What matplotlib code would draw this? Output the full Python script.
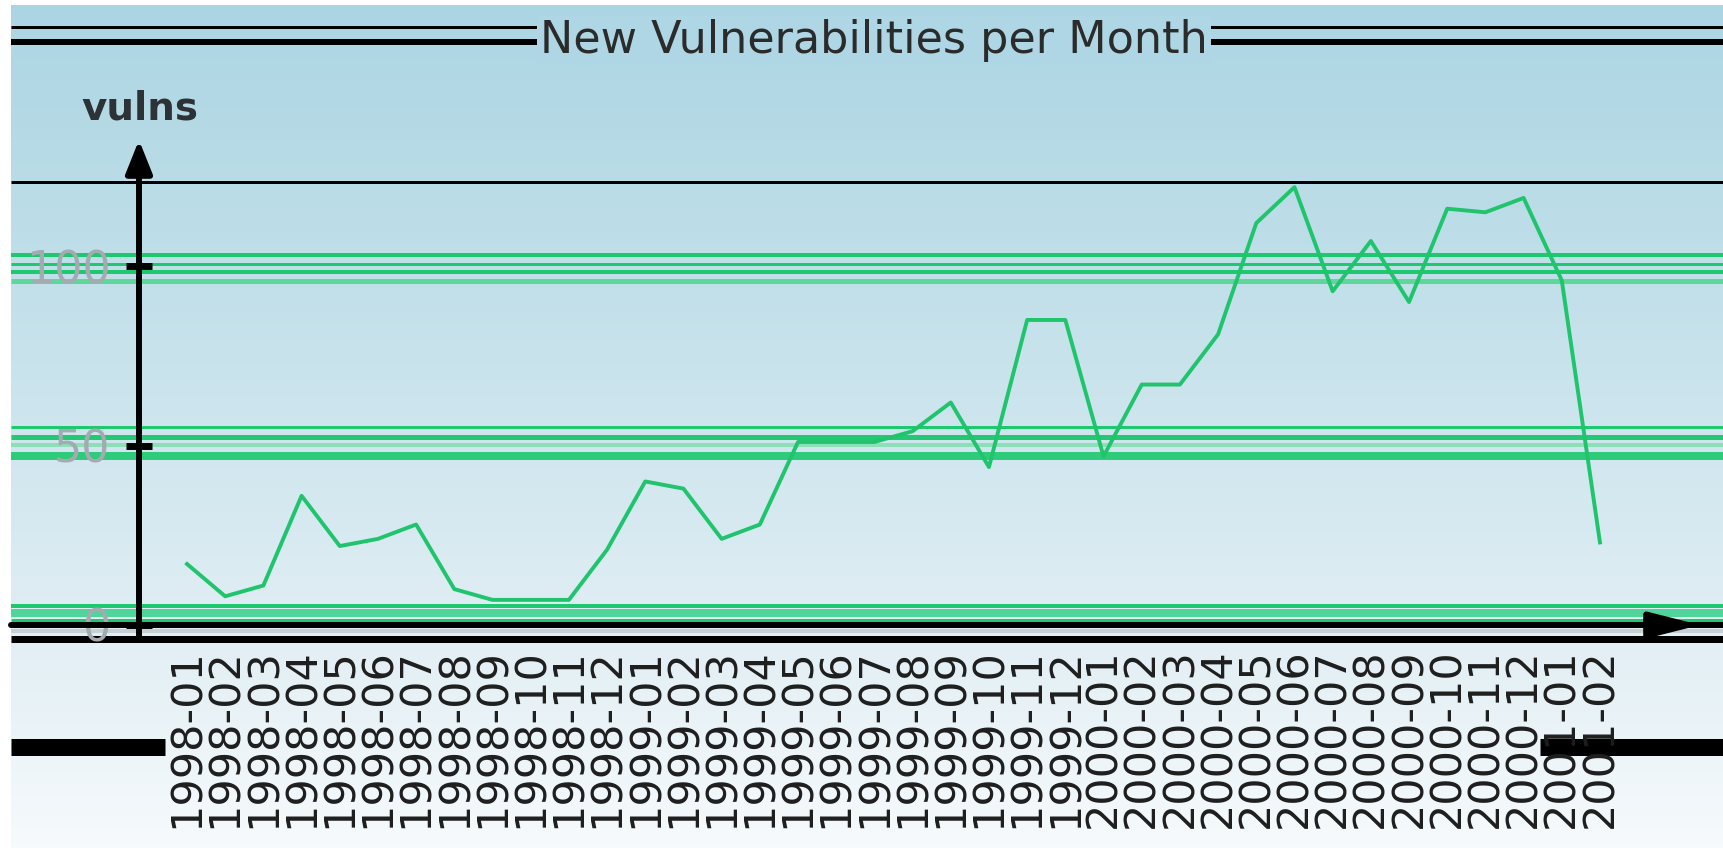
import numpy as np
import matplotlib
matplotlib.use("Agg")
import matplotlib.pyplot as plt
from matplotlib.lines import Line2D
from matplotlib.colors import LinearSegmentedColormap

# months shown on the x axis
years = ["1998", "1999", "2000"]
month_nums = ["01", "02", "03", "04", "05", "06", "07", "08", "09", "10", "11", "12"]
labels = [y + "-" + m for y in years for m in month_nums] + ["2001-01", "2001-02"]

# new vulnerabilities per month
vulns = [17, 8, 11, 36, 22, 24, 28, 10, 7, 7, 7, 21, 40, 38, 24, 28, 51, 51, 51, 54,
         62, 44, 85, 85, 47, 67, 67, 81, 112, 122, 93, 107, 90, 116, 115, 119, 96, 23]

yticks = [0, 50, 100]

W, H = 1724, 848
fig = plt.figure(figsize=(W / 100, H / 100), dpi=100)
fig.patch.set_facecolor("white")


def fy(y):
    return 1 - y / H


# background gradient
bg = fig.add_axes([11 / W, 0, 1 - 11 / W, 1 - 5 / H], zorder=-10)
cmap = LinearSegmentedColormap.from_list(
    "bg", [(0, "#acd5e3"), (0.3, "#bfdfe9"), (0.55, "#d2e7ef"), (0.78, "#e4f0f5"), (1, "#f6fafc")])
bg.imshow(np.linspace(0, 1, 256).reshape(-1, 1), aspect="auto", cmap=cmap)
bg.axis("off")


def hline(y, lw_px, color, x0=11, x1=W, z=-5):
    fig.add_artist(Line2D([x0 / W, x1 / W], [fy(y), fy(y)], transform=fig.transFigure,
                          color=color, lw=lw_px * 0.72, zorder=z, solid_capstyle="butt"))


# stray full-width rules
hline(27, 3, "black")
hline(42, 6, "black")
hline(182, 3, "black")
# green bands around grid levels
for y, w, c in [(255, 4, "#1ec86e"), (264, 3, "#1ec86e"), (272, 4, "#1ec86e"), (280.5, 5, "#5fd79a"),
                (427, 3, "#1ec86e"), (437, 5, "#22c972"), (445, 4, "#8ddfb8"), (456, 8, "#2ecb7a"),
                (606, 4, "#1ec86e"), (613, 8, "#4fd49a"), (620, 3, "#1ec86e")]:
    hline(y, w, c)
hline(625, 6, "black")
hline(630.5, 4, "#c8cfd3")
hline(638.5, 7, "black")
hline(746.5, 17, "black", 11, 165)
hline(746.5, 17, "black", 1540, W)

ax = fig.add_axes([139 / W, fy(625), (1650 - 139) / W, (625 - 182.5) / H], zorder=1)
ax.patch.set_alpha(0)
ax.set_xlim(-1.257, 38.31)
ax.set_ylim(0, 123.3)
for s in ax.spines.values():
    s.set_visible(False)

ax.plot(range(len(vulns)), vulns, color="#1fc46c", lw=2.8, zorder=3, clip_on=False)

ax.set_yticks(yticks)
ax.set_yticklabels([str(v) for v in yticks])
ax.tick_params(axis="y", direction="inout", length=19, width=5, pad=11,
               labelsize=32, labelcolor="#a3abb1", color="black")
ax.set_xticks(range(len(labels)))
ax.set_xticklabels(labels, rotation=90, fontsize=31, color="#1e1e1e")
ax.tick_params(axis="x", length=0, pad=16.5)

# axis arrows
ax.annotate("", xy=(0, (625 - 140) / 442.5), xytext=(0, -0.034), xycoords="axes fraction",
            arrowprops=dict(arrowstyle="-|>,head_length=1.0,head_width=0.4", lw=4.3,
                            color="black", shrinkA=0, shrinkB=0, mutation_scale=20))
ax.annotate("", xy=((1700 - 139) / 1511, 0), xytext=((11 - 139) / 1511, 0), xycoords="axes fraction",
            arrowprops=dict(arrowstyle="-|>,head_length=1.5,head_width=0.38", lw=4.3,
                            color="black", shrinkA=0, shrinkB=0, mutation_scale=20))

fig.text(874 / W, fy(40), "New Vulnerabilities per Month", ha="center", va="center",
         fontsize=32, color="#2b2b2b", zorder=5,
         bbox=dict(facecolor="#aed6e4", edgecolor="none", pad=2))
fig.text(140 / W, fy(119), "vulns", ha="center", va="baseline", fontsize=28,
         fontweight="bold", color="#2d3236")

fig.savefig("out.png", dpi=100)
